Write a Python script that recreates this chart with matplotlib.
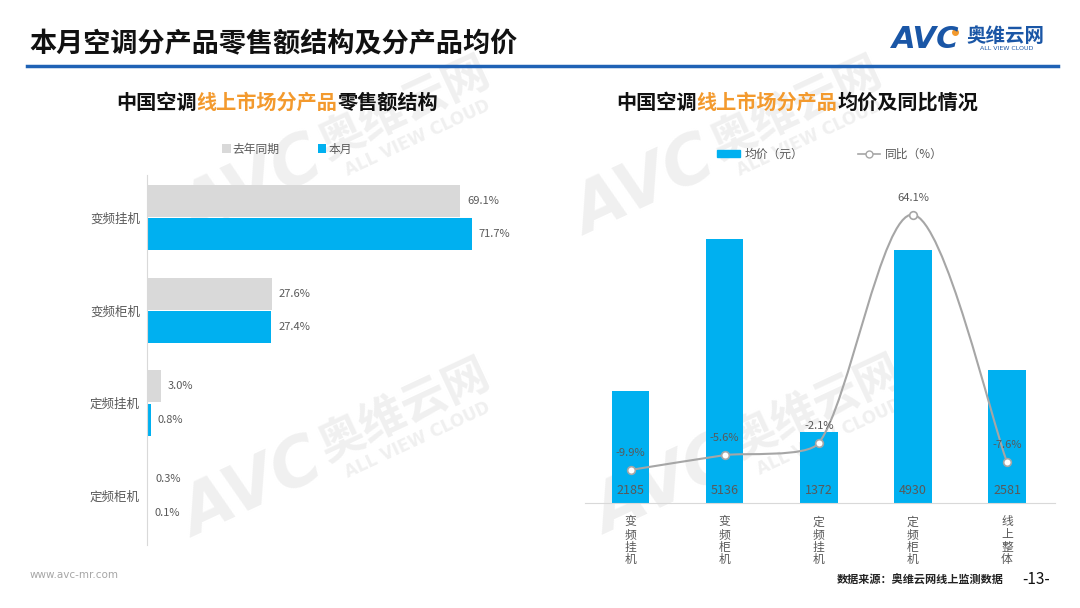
import numpy as np
import matplotlib
matplotlib.use('Agg')
import matplotlib.pyplot as plt
from matplotlib.path import Path
from matplotlib.patches import PathPatch, Patch
from matplotlib.lines import Line2D

plt.rcParams['font.family'] = ['Noto Sans CJK SC', 'DejaVu Sans']

# ---- data ----
share_cats = ['变频挂机', '变频柜机', '定频挂机', '定频柜机']
share_last_year = [69.1, 27.6, 3.0, 0.3]
share_this_month = [71.7, 27.4, 0.8, 0.1]

price_cats = ['变频挂机', '变频柜机', '定频挂机', '定频柜机', '线上整体']
avg_price = [2185, 5136, 1372, 4930, 2581]
yoy_pct = [-9.9, -5.6, -2.1, 64.1, -7.6]

# ---- style ----
BLUE = '#00B0F0'
GREY_BAR = '#D9D9D9'
LINE_GREY = '#A6A6A6'
TXT = '#595959'
ORANGE = '#F39A2E'
DARK_BLUE = '#1A56A6'
WM = '#F0F0F0'

W, H = 1080, 608
fig = plt.figure(figsize=(10.8, 6.08), dpi=100)


def fx(px):
    return px / W


def fy(py):
    return 1 - py / H


# watermarks (behind everything)
def watermark(ax_, ay_):
    kw = dict(color=WM, rotation=25, ha='center', va='center',
              fontweight='bold', zorder=-10)
    fig.text(fx(ax_ - 165), fy(ay_ + 50), 'AVC', fontsize=48,
             style='italic', family='DejaVu Sans', **kw)
    fig.text(fx(ax_ - 13), fy(ay_ - 30), '奥维云网', fontsize=33, **kw)
    fig.text(fx(ax_), fy(ay_), 'ALL VIEW CLOUD', fontsize=12,
             family='DejaVu Sans', **kw)


for wx, wy in [(418, 138), (810, 138), (418, 440), (830, 437)]:
    watermark(wx, wy)

# main title + rule
fig.text(fx(29), fy(44), '本月空调分产品零售额结构及分产品均价', fontsize=19.5,
         fontweight='bold', color='#111111', va='center', ha='left')
fig.add_artist(Line2D([fx(27), fx(1058)], [fy(66), fy(66)], color='#1F62B5',
                      lw=2.5, transform=fig.transFigure))

# logo
fig.text(fx(892), fy(39), 'AVC', fontsize=22, fontweight='bold', style='italic',
         family='DejaVu Sans', color=DARK_BLUE, va='center', ha='left')
fig.add_artist(Line2D([fx(955)], [fy(32)], marker='o', ms=4, color=ORANGE,
                      transform=fig.transFigure))
fig.text(fx(966), fy(36), '奥维云网', fontsize=14, fontweight='bold',
         color=DARK_BLUE, va='center', ha='left')
fig.text(fx(1007), fy(49), 'ALL VIEW CLOUD', fontsize=4.5, family='DejaVu Sans',
         color=DARK_BLUE, va='center', ha='center')

renderer = fig.canvas.get_renderer()


def multicolor_title(x0, y, parts, size=14.5):
    x = x0
    for s, c in parts:
        t = fig.text(fx(x), fy(y), s, color=c, fontsize=size, fontweight='bold',
                     va='center', ha='left')
        x += t.get_window_extent(renderer).width


multicolor_title(116, 102, [('中国空调', '#111111'), ('线上市场分产品', ORANGE),
                            ('零售额结构', '#111111')])
multicolor_title(616, 102, [('中国空调', '#111111'), ('线上市场分产品', ORANGE),
                            ('均价及同比情况', '#111111')])

# ---- left: horizontal bars ----
ax1 = fig.add_axes([fx(147), fy(545), fx(540) - fx(147), fy(175) - fy(545)])
ax1.set_facecolor('none')
y = np.arange(len(share_cats))
bh = 0.345
b_last = ax1.barh(y - 0.18, share_last_year, height=bh, color=GREY_BAR,
                  label='去年同期')
b_now = ax1.barh(y + 0.18, share_this_month, height=bh, color=BLUE, label='本月')
ax1.set_xlim(0, 86.75)
ax1.set_ylim(3.528, -0.458)
ax1.set_yticks(y)
ax1.set_yticklabels(share_cats, fontsize=9, color=TXT)
ax1.tick_params(axis='y', length=0, pad=5)
ax1.set_xticks([])
for s in ['top', 'right', 'bottom']:
    ax1.spines[s].set_visible(False)
ax1.spines['left'].set_color('#D9D9D9')
for bars, vals in [(b_last, share_last_year), (b_now, share_this_month)]:
    for rect, v in zip(bars, vals):
        ax1.annotate(f'{v:.1f}%', (v, rect.get_y() + rect.get_height() / 2),
                     xytext=(5, 0), textcoords='offset points', ha='left',
                     va='center', fontsize=8, color=TXT)

fig.legend(handles=[b_last, b_now], labels=['去年同期', '本月'], loc='center',
           bbox_to_anchor=(fx(287), fy(149)), ncol=2, frameon=False,
           fontsize=8.5, handlelength=0.7, handleheight=0.7,
           handletextpad=0.2, columnspacing=3.2, labelcolor=TXT)

# ---- right: bars + yoy line ----
ax2 = fig.add_axes([fx(585), fy(503), fx(1055) - fx(585), fy(175) - fy(503)])
ax2.set_facecolor('none')
x = np.arange(len(price_cats))
bars = ax2.bar(x, avg_price, width=0.40, color=BLUE)
ax2.set_xlim(-0.4835, 4.51)
ax2.set_ylim(0, 6381)
ax2.set_yticks([])
ax2.set_xticks(x)
ax2.set_xticklabels(['\n'.join(c) for c in price_cats], fontsize=8.5, color=TXT,
                    linespacing=0.96, va='top')
ax2.tick_params(axis='x', length=0, pad=9)
for s in ['top', 'right', 'left']:
    ax2.spines[s].set_visible(False)
ax2.spines['bottom'].set_color('#D9D9D9')
for xi, v in zip(x, avg_price):
    ax2.annotate(f'{v}', (xi, 0), xytext=(0, 9), textcoords='offset points',
                 ha='center', va='center', fontsize=9, color=TXT)

ax3 = ax2.twinx()
ax3.set_ylim(-19.48, 75.6)
ax3.set_axis_off()

# smoothed line: Catmull-Rom style Bezier through the data points (screen
# space), with handles capped relative to the segment length
pts = ax3.transData.transform(np.column_stack([x, yoy_pct]).astype(float))
n = len(pts)
verts = [pts[0]]
codes = [Path.MOVETO]
for i in range(n - 1):
    seg = np.hypot(*(pts[i + 1] - pts[i]))
    h1 = (pts[i + 1] - pts[max(i - 1, 0)]) / 6
    h2 = (pts[min(i + 2, n - 1)] - pts[i]) / 6
    h1 *= min(1.0, 0.2 * seg / np.hypot(*h1))
    h2 *= min(1.0, 0.2 * seg / np.hypot(*h2))
    verts += [pts[i] + h1, pts[i + 1] - h2, pts[i + 1]]
    codes += [Path.CURVE4] * 3
verts = ax3.transData.inverted().transform(np.array(verts))
ax3.add_patch(PathPatch(Path(verts, codes), facecolor='none',
                        edgecolor=LINE_GREY, lw=1.5, zorder=3))
ax3.plot(x, yoy_pct, linestyle='none', marker='o', ms=5.5, mfc='white',
         mec=LINE_GREY, mew=1.2, zorder=4)
for xi, v in zip(x, yoy_pct):
    ax3.annotate(f'{v:.1f}%', (xi, v), xytext=(0, 12), textcoords='offset points',
                 ha='center', va='center', fontsize=8, color=TXT)

fig.legend(handles=[Patch(color=BLUE),
                    Line2D([], [], color=LINE_GREY, marker='o', ms=5, mfc='white',
                           mec=LINE_GREY, lw=1.2)],
           labels=['均价（元）', '同比（%）'], loc='center',
           bbox_to_anchor=(fx(830), fy(154)), ncol=2, frameon=False,
           fontsize=8.5, handlelength=1.9, handleheight=0.5, handletextpad=0.4,
           columnspacing=4.6, labelcolor=TXT)

# footer
fig.text(fx(30), fy(575), 'www.avc-mr.com', fontsize=7.5, color='#A6A6A6',
         family='DejaVu Sans', va='center', ha='left')
fig.text(fx(837), fy(580), '数据来源：奥维云网线上监测数据', fontsize=8,
         fontweight='bold', color='#222222', va='center', ha='left')
fig.text(fx(1036), fy(580), '-13-', fontsize=11, color='#111111', va='center',
         ha='center')

fig.savefig('out.png', dpi=100)
